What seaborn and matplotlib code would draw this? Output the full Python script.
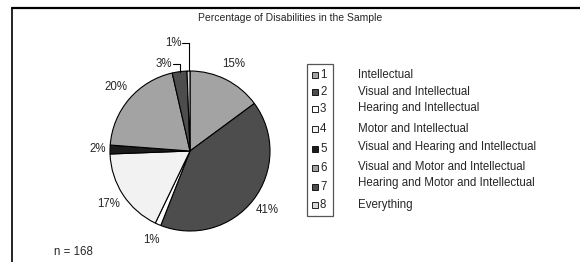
import numpy as np
import matplotlib
matplotlib.use("Agg")
import matplotlib.pyplot as plt
from matplotlib.patches import Rectangle
from matplotlib.lines import Line2D
import seaborn as sns

# ---- data ----
codes = ["1", "2", "3", "4", "5", "6", "7", "8"]
categories = ["Intellectual", "Visual and Intellectual", "Hearing and Intellectual",
              "Motor and Intellectual", "Visual and Hearing and Intellectual",
              "Visual and Motor and Intellectual", "Hearing and Motor and Intellectual",
              "Everything"]
counts = [25, 69, 2, 29, 3, 34, 5, 1]
colors = ["#a3a3a3", "#4d4d4d", "#ffffff", "#f2f2f2", "#1c1c1c", "#a3a3a3", "#4d4d4d", "#d6d6d6"]
title = "Percentage of Disabilities in the Sample"
n_label = "n = 168"

sns.set_style("white")
plt.rcParams["font.family"] = ["Liberation Sans", "DejaVu Sans"]

W, H = 580, 262
fig = plt.figure(figsize=(W / 100, H / 100), dpi=100)
FS = 8.3

def fx(px):
    return px / W

def fy(py):
    return 1 - py / H

# frame lines (top and left)
fig.add_artist(Line2D([fx(12), fx(580)], [fy(8), fy(8)], color="black", lw=1.6))
fig.add_artist(Line2D([fx(12), fx(12)], [fy(8), fy(262)], color="black", lw=1.2))

fig.text(fx(290), fy(18), title, ha="center", va="center", fontsize=7.5)
fig.text(fx(54), fy(252), n_label, ha="left", va="center", fontsize=FS)

# pie
cx, cy, R = 190, 151, 80
ax = fig.add_axes([fx(cx - R), fy(cy + R), 2 * R / W, 2 * R / H])
wedges, _ = ax.pie(counts, colors=colors, startangle=90, counterclock=False,
                   wedgeprops=dict(edgecolor="black", linewidth=0.8))
ax.set_xlim(-1, 1)
ax.set_ylim(-1, 1)
ax.set_aspect("auto")
ax.axis("off")

total = sum(counts)
pcts = [c / total * 100 for c in counts]
cum = np.cumsum([0] + counts[:-1])
for i, (c, p) in enumerate(zip(counts, pcts)):
    mid = (cum[i] + c / 2) / total
    ang = np.deg2rad(90 - mid * 360)
    lab = f"{p:.0f}%"
    if i == 6 or i == 7:
        ex, ey = np.cos(ang), np.sin(ang)
        ty = 1.09 if i == 6 else 1.35
        hx = ex - 0.08
        ax.plot([ex, ex, hx], [ey, ty, ty], color="black", lw=0.8, clip_on=False)
        ax.text(hx - 0.01, ty, lab, ha="right", va="center", fontsize=FS, clip_on=False)
    else:
        d = 1.22 if i != 4 else 1.15
        ax.text(d * np.cos(ang), d * np.sin(ang), lab, ha="center", va="center",
                fontsize=FS, clip_on=False)

# legend box
fig.add_artist(Rectangle((fx(307), fy(216)), fx(333) - fx(307), fy(64) - fy(216),
                         facecolor="white", edgecolor="#555555", lw=0.9))
num_y = [75, 92, 109, 129, 149, 168, 187, 205]
lab_y = [75, 92, 108, 129, 147, 167, 183, 205]
for code, cat, col, ny, ly in zip(codes, categories, colors, num_y, lab_y):
    fig.add_artist(Rectangle((fx(312), fy(ny + 3)), 6 / W, 6 / H,
                             facecolor=col, edgecolor="black", lw=0.6))
    fig.text(fx(320), fy(ny), code, ha="left", va="center", fontsize=FS)
    fig.text(fx(358), fy(ly), cat, ha="left", va="center", fontsize=FS)

fig.savefig("out.png", dpi=100)
